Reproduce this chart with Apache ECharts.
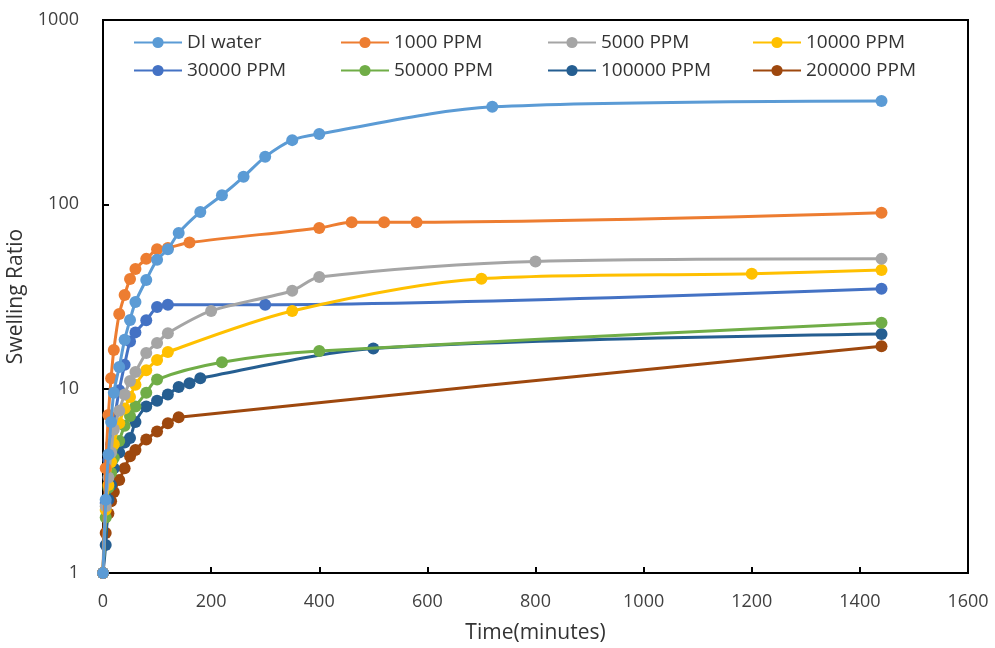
<!DOCTYPE html>
<html><head><meta charset="utf-8">
<script src="https://cdn.jsdelivr.net/npm/echarts@6/dist/echarts.min.js"></script>
<style>html,body{margin:0;padding:0;background:#fff}#c{width:995px;height:648px}</style>
</head><body><div id="c"></div>
<script>
const seriesNames = ["DI water","1000 PPM","5000 PPM","10000 PPM","30000 PPM","50000 PPM","100000 PPM","200000 PPM"];
const colors = ["#5B9BD5","#ED7D31","#A5A5A5","#FFC000","#4472C4","#70AD47","#255E91","#9E480E"];
const xTicks = [0,200,400,600,800,1000,1200,1400,1600];
const yTicks = [1,10,100,1000];

const tDI = [0,5,10,15,20,30,40,50,60,80,100,120,140,180,220,260,300,350,400,720,1440];
const vDI = [1,2.5,4.4,6.6,9.5,13.1,18.4,23.6,29.5,38.9,50,57,70,91,112,141,181,223,241,338,364];
const t1000 = [0,5,10,15,20,30,40,50,60,80,100,120,160,400,460,520,580,1440];
const v1000 = [1,3.7,7.2,11.4,16.2,25.4,32.2,39.4,44.6,50.6,57,58,62,74.5,80,80,80,90];
const t5000 = [0,5,10,15,20,30,40,50,60,80,100,120,200,350,400,800,1440];
const v5000 = [1,2.3,3.3,4.5,6.0,7.6,9.3,11,12.3,15.6,17.7,20,26.4,34,40.3,49,50.6];
const t10000 = [0,5,10,15,20,30,40,50,60,80,100,120,350,700,1200,1440];
const v10000 = [1,2.2,3.0,4.0,5.0,6.5,7.8,9.0,10.5,12.6,14.3,15.8,26.4,39.5,42,44];
const t30000 = [0,5,10,15,20,30,40,50,60,80,100,120,300,1440];
const v30000 = [1,2.4,4.1,5.0,6.5,9.8,13.5,18,20.2,23.5,27.7,28.5,28.5,34.8];
const t50000 = [0,5,10,15,20,30,40,50,60,80,100,220,400,1440];
const v50000 = [1,2.0,2.9,3.5,4.2,5.2,6.3,7.1,8.0,9.5,11.2,13.9,16.0,22.8];
const t100000 = [0,5,10,15,20,30,40,50,60,80,100,120,140,160,180,500,1440];
const v100000 = [1,1.42,2.5,3.0,3.7,4.5,5.1,5.4,6.6,8.0,8.6,9.3,10.2,10.7,11.4,16.5,19.8];
const t200000 = [0,5,10,15,20,30,40,50,60,80,100,120,140,1440];
const v200000 = [1,1.65,2.1,2.45,2.75,3.2,3.7,4.3,4.65,5.3,5.85,6.5,7.0,17];

const allT = [tDI,t1000,t5000,t10000,t30000,t50000,t100000,t200000];
const allV = [vDI,v1000,v5000,v10000,v30000,v50000,v100000,v200000];

const FONT = "'Open Sans',sans-serif";
const legendPos = [[133,33],[340,33],[547,33],[752,33],[133,61],[340,61],[547,61],[752,61]];

const chart = echarts.init(document.getElementById('c'));
chart.setOption({
  animation:false,
  backgroundColor:'#fff',
  grid:{left:103,right:27,top:20,bottom:75,containLabel:false,outerBoundsMode:'none',show:true,borderColor:'#000',borderWidth:2,backgroundColor:'transparent'},
  legend: seriesNames.map((n,i)=>({
    data:[n], left:legendPos[i][0], top:legendPos[i][1], itemWidth:48, itemHeight:14, itemGap:4,
    padding:0, textStyle:{fontFamily:FONT,fontSize:19,color:'#333333'}
  })),
  xAxis:{type:'value',min:xTicks[0],max:xTicks[xTicks.length-1],interval:200,
    name:'Time(minutes)',nameLocation:'middle',nameGap:50,
    nameTextStyle:{fontFamily:FONT,fontSize:21,color:'#333333'},
    axisLine:{show:true,lineStyle:{color:'#000',width:2}},
    axisTick:{show:true,inside:true,length:6,lineStyle:{color:'#000',width:2}},
    splitLine:{show:false},
    axisLabel:{fontFamily:FONT,fontSize:18,color:'#404040',margin:20,formatter:v=>String(v)}},
  yAxis:{type:'log',logBase:10,min:yTicks[0],max:yTicks[yTicks.length-1],
    name:'Swelling Ratio',nameLocation:'middle',nameGap:72,nameRotate:90,
    nameTextStyle:{fontFamily:FONT,fontSize:21,color:'#333333'},
    axisLine:{show:true,lineStyle:{color:'#000',width:2}},
    axisTick:{show:true,inside:true,length:6,lineStyle:{color:'#000',width:2}},
    minorTick:{show:false},splitLine:{show:false},
    axisLabel:{fontFamily:FONT,fontSize:18,color:'#404040',margin:24,formatter:v=>String(v)}},
  series: seriesNames.map((n,i)=>({
    name:n,type:'line',smooth:0.3,symbol:'circle',symbolSize:12,
    color:colors[i],lineStyle:{width:3,color:colors[i]},itemStyle:{color:colors[i]},
    data: allT[i].map((t,j)=>[t,allV[i][j]]),
    z: 10-i
  }))
});
</script></body></html>
